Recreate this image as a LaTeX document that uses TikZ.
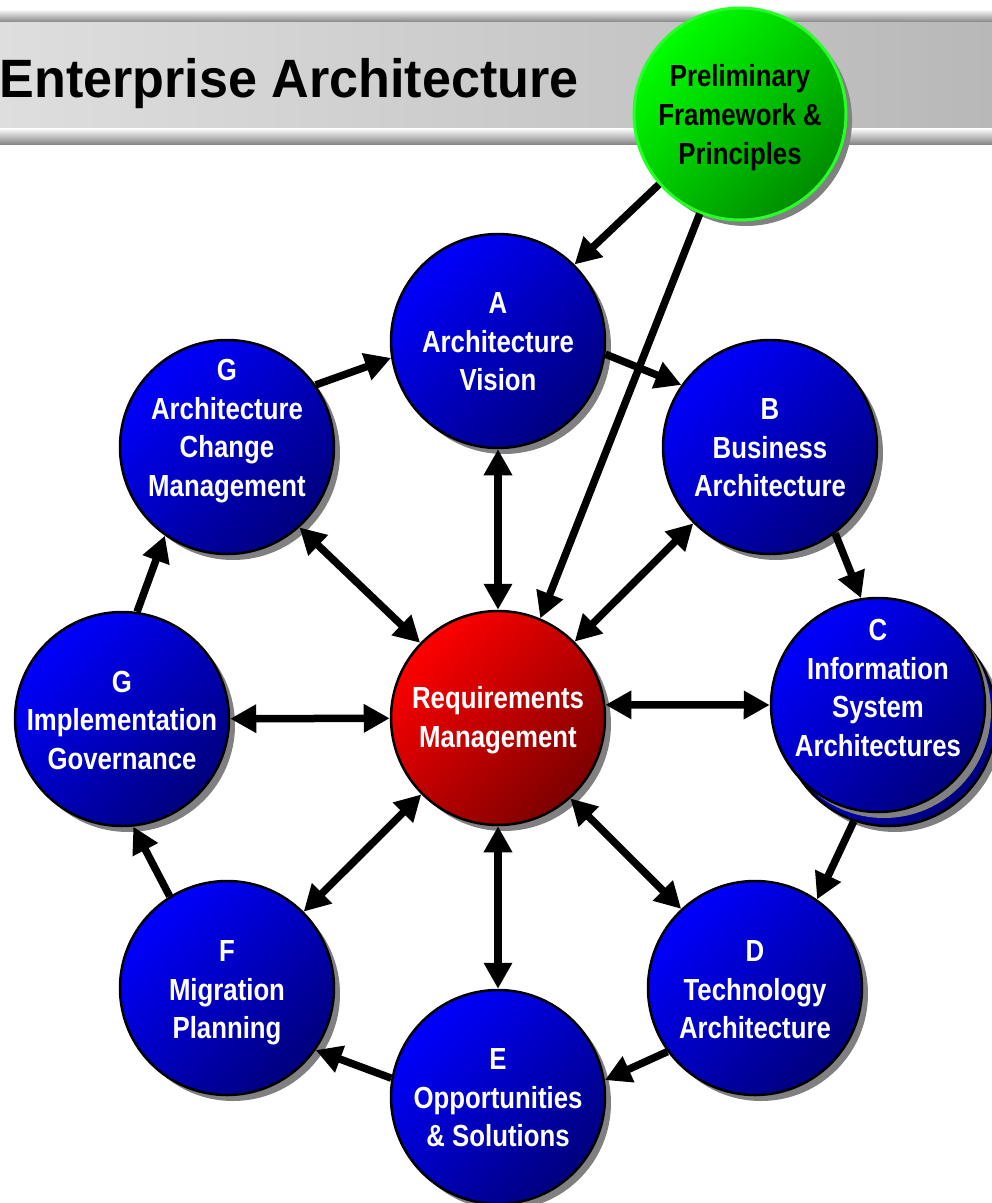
\documentclass[tikz,border=0pt]{standalone}
\usepackage{fontspec}
\newfontfamily\cfont{Liberation Sans}[FakeStretch=0.845]
\newfontfamily\tfont{Liberation Sans}[FakeStretch=0.965]
\usetikzlibrary{arrows.meta,shadows}
\definecolor{bluehi}{RGB}{0,0,255}
\definecolor{bluelo}{RGB}{0,0,125}
\definecolor{redhi}{RGB}{255,0,0}
\definecolor{redlo}{RGB}{125,0,0}
\definecolor{greenhi}{RGB}{0,255,0}
\definecolor{greenlo}{RGB}{0,140,0}
\definecolor{greenrim}{RGB}{40,255,40}
\definecolor{shadowgray}{RGB}{128,128,128}
\definecolor{barleft}{RGB}{222,222,222}
\definecolor{barright}{RGB}{184,184,184}
\definecolor{bandgray}{RGB}{135,135,135}
\begin{document}
\begin{tikzpicture}[x=1pt,y=-1pt,
  ball/.style={circle, minimum size=214pt, inner sep=0pt, draw=black, line width=2.5pt,
    drop shadow={shadow xshift=6pt, shadow yshift=-6pt, fill=shadowgray, opacity=1}},
  blueball/.style={ball, top color=bluehi, bottom color=bluelo, shading angle=45},
  redball/.style={ball, top color=redhi, bottom color=redlo, shading angle=45},
  greenball/.style={ball, minimum size=212pt, draw=greenrim, line width=3pt,
    top color=greenhi, bottom color=greenlo, shading angle=45},
  lbl/.style={text=white, align=center, inner sep=0pt,
    font=\cfont\bfseries\fontsize{30.5}{38.5}\selectfont},
  glbl/.style={lbl, text=black, font=\cfont\bfseries\fontsize{30.5}{39}\selectfont},
  arr/.style={line width=7.5pt, -{Triangle[length=26pt,width=27pt]}},
  darr/.style={line width=7.5pt, {Triangle[length=26pt,width=27pt]}-{Triangle[length=26pt,width=27pt]}},
]
\useasboundingbox (0,0) rectangle (992,1203);
% header bar
\shade[top color=white, bottom color=bandgray] (0,9) rectangle (992,22);
\shade[left color=barleft, right color=barright] (0,22) rectangle (992,128);
\shade[top color=white, bottom color=bandgray] (0,128) rectangle (992,144);
\node[anchor=base east, inner sep=0pt, font=\tfont\bfseries\fontsize{54}{60}\selectfont] (title) at (579,97) {Enterprise Architecture};

% circles
\node[greenball] (P) at (740,114) {};
\node[glbl] (Pt) at (740,118) {Preliminary\\Framework \&\\Principles};

\node[blueball] (A) at (498,341) {};
\node[lbl] (At) at (498,342) {A\\Architecture\\Vision};

\node[blueball] (B) at (770,447) {};
\node[lbl] (Bt) at (770,448) {B\\Business\\Architecture};

\node[blueball] (Cb) at (889,719) {};
\node[blueball] (C) at (878,705) {};
\node[lbl] (Ct) at (878,688) {C\\Information\\System\\Architectures};

\node[blueball] (D) at (755,988) {};
\node[lbl] (Dt) at (755,990) {D\\Technology\\Architecture};

\node[blueball] (E) at (498,1097) {};
\node[lbl] (Et) at (498,1098) {E\\Opportunities\\\& Solutions};

\node[blueball] (F) at (227,988) {};
\node[lbl] (Ft) at (227,993) {F\\Migration\\Planning};

\node[blueball] (Gi) at (122,719) {};
\node[lbl] (Git) at (122,720) {G\\Implementation\\Governance};

\node[blueball] (Ga) at (227,447) {};
\node[lbl] (Gat) at (227,431) {G\\Architecture\\Change\\Management};

\node[redball] (R) at (498,718) {};
\node[lbl] (Rt) at (498,720) {Requirements\\Management};

% cycle arrows
\draw[arr] (P.221.6) -- (A.45.7);
\draw[arr] (P.248.8) -- (R.67.5);
\draw[arr] (A.353.8) -- (B.145.4);
\draw[arr] (B.307.1) -- (C.99.5);
\draw[arr] (Cb.251) -- (D.55);
\draw[arr] (D.216.8) -- (E.9.3);
\draw[arr] (E.170.9) -- (F.325);
\draw[arr] (F.122.9) -- (Gi.276.8);
\draw[arr] (Gi.82) -- (Ga.235.4);
\draw[arr] (Ga.35.3) -- (A.189);

% requirements arrows
\draw[darr] (R) -- (A);
\draw[darr] (R) -- (B);
\draw[darr] (R.7.5) -- (C.180);
\draw[darr] (R.312) -- (D.133);
\draw[darr] (R) -- (E);
\draw[darr] (R) -- (F);
\draw[darr] (R) -- (Gi);
\draw[darr] (R.136) -- (Ga.312);
\end{tikzpicture}
\end{document}
